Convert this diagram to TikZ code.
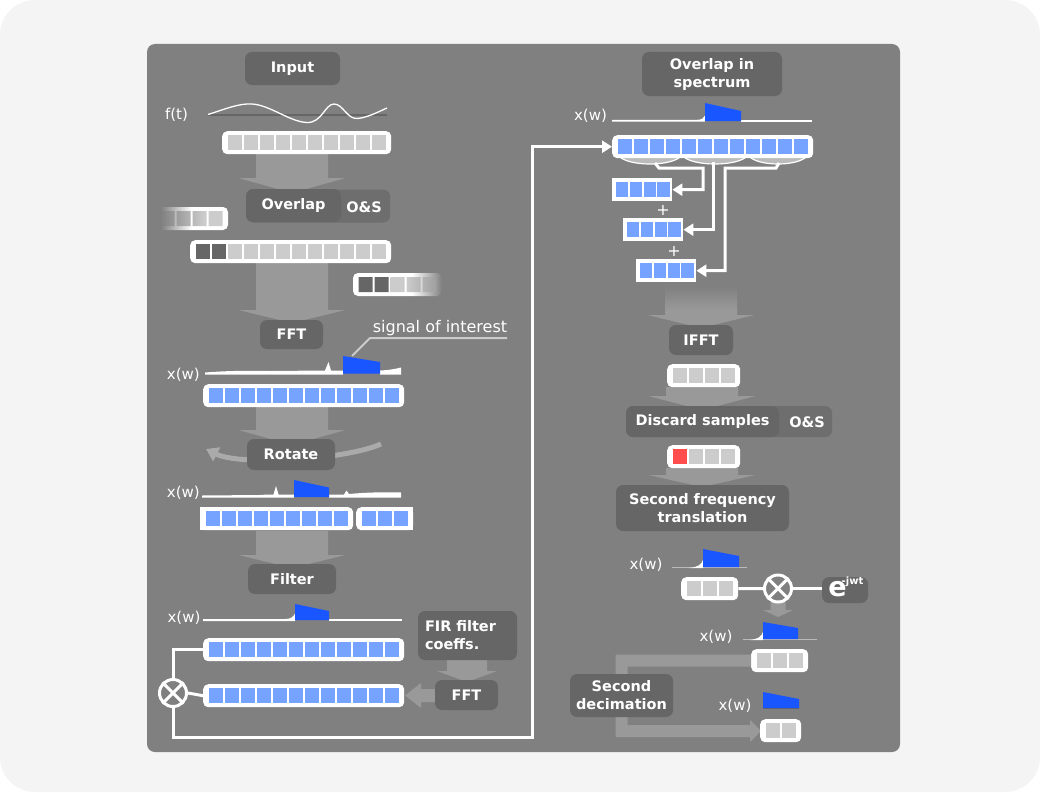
\documentclass[tikz,border=0pt]{standalone}
\usepackage{fontspec}
\setmainfont{DejaVu Sans}
\usetikzlibrary{arrows.meta}
\definecolor{outerbg}{HTML}{F4F4F4}
\definecolor{panel}{HTML}{808080}
\definecolor{boxc}{HTML}{666666}
\definecolor{osc}{HTML}{6E6E6E}
\definecolor{arrowc}{HTML}{999999}
\definecolor{cellg}{HTML}{CCCCCC}
\definecolor{celld}{HTML}{666666}
\definecolor{cellb}{HTML}{75A3FF}
\definecolor{specb}{HTML}{1A56FF}
\definecolor{cellr}{HTML}{FF4D4D}
\definecolor{rotc}{HTML}{AAAAAA}
\definecolor{bracec}{HTML}{BBBBBB}
\definecolor{sigc}{HTML}{CCCCCC}
\pgfdeclarehorizontalshading{fadeframeL}{100bp}{color(0bp)=(panel); color(29bp)=(panel); color(50bp)=(white); color(100bp)=(white)}
\pgfdeclarehorizontalshading{fadecellL}{100bp}{color(0bp)=(panel); color(25bp)=(panel); color(60bp)=(cellg); color(100bp)=(cellg)}
\pgfdeclarehorizontalshading{fadeframeR}{100bp}{color(0bp)=(white); color(58bp)=(white); color(75bp)=(panel); color(100bp)=(panel)}
\pgfdeclarehorizontalshading{fadecellR}{100bp}{color(0bp)=(cellg); color(42bp)=(cellg); color(75bp)=(panel!60!cellg); color(100bp)=(panel)}
% name, x, y, n, main colour, first k, first colour
\newcommand\cellrow[7]{%
  \pgfmathsetmacro\cw{16*#4+9}%
  \node[fill=white, rounded corners=5pt, inner sep=0pt, minimum width=\cw pt, minimum height=23pt, anchor=north west] (#1) at (#2,#3) {};
  \foreach \i in {1,...,#4}{%
    \ifnum\i>#6\relax\def\cc{#5}\else\def\cc{#7}\fi
    \fill[\cc] ({#2+5.5+16*(\i-1)},{#3+4}) rectangle ++(14,15);
  }%
}
% square 4-cell row: name, x, y
\newcommand\sqrow[3]{%
  \node[fill=white, inner sep=0pt, minimum width=60pt, minimum height=23pt, anchor=north west] (#1) at (#2,#3) {};
  \foreach \i in {1,...,4}{%
    \fill[cellb] ({#2+4+13.8*(\i-1)},{#3+4}) rectangle ++(12.3,15);
  }%
}
% cx, ytop, yhead, ytip
\newcommand\bigarrow[4]{%
  \fill[arrowc] (#1-36,#2) -- (#1+36,#2) -- (#1+36,#3) -- (#1+53.5,#3) -- (#1,#4) -- (#1-53.5,#3) -- (#1-36,#3) -- cycle;
}
\begin{document}
\begin{tikzpicture}[x=1pt,y=-1pt,
  lbl/.style={fill=boxc, rounded corners=7pt, text=white, font=\bfseries\fontsize{14.5}{18}\selectfont, inner sep=0pt, align=center},
  txt/.style={text=white, font=\fontsize{15}{18}\selectfont, inner sep=0pt},
  wline/.style={draw=white, line width=3pt},
  tipw/.style={-{Triangle[length=10pt,width=12pt]}},
  mult/.style={circle, draw=white, line width=3pt, minimum size=27pt, inner sep=0pt}
]
\useasboundingbox (0,0) rectangle (1040,792);
\fill[white] (0,0) rectangle (1040,792);
\fill[outerbg, rounded corners=35pt] (0,0) rectangle (1040,792);
\fill[panel, rounded corners=8pt] (147,44) rectangle (900,752);

% ---------- big grey arrows ----------
\bigarrow{292}{153}{178}{193}
\bigarrow{292}{263}{310}{323}
\bigarrow{292}{406}{430}{445}
\bigarrow{292}{531}{555}{568}
\shade[top color=panel, bottom color=arrowc] (665,286) rectangle (737,310);
\bigarrow{701}{309.5}{315}{328}
\bigarrow{702}{387}{396}{410}
\bigarrow{702}{468}{475}{487}
% small arrows
\fill[arrowc] (447,659) -- (487,659) -- (487,671) -- (497,671) -- (467,682) -- (437,671) -- (447,671) -- cycle;
\fill[arrowc] (770.5,602) -- (785.5,602) -- (785.5,610) -- (793,610) -- (778,617) -- (763,610) -- (770.5,610) -- cycle;
\fill[arrowc] (437,689) -- (421,689) -- (421,683) -- (405,695.5) -- (421,708) -- (421,702) -- (437,702) -- cycle;

% rotate arc
\draw[rotc, line width=5pt, -{Triangle[length=12pt,width=15pt]}] (381,444) .. controls (345,460) and (240,466) .. (206,449);

% ---------- input ----------
\node[lbl, minimum width=95pt, minimum height=33pt] (input) at (292.5,68.5) {Input};
\node[txt] (ft) at (176.5,115) {f(t)};
\draw[celld, line width=2pt] (208,115) -- (387,115);
\draw[white, line width=1.3pt] (208,114.5) .. controls (225,109) and (240,103) .. (252,104) .. controls (270,105) and (290,122) .. (307,122.5) .. controls (322,123) and (325,104) .. (334,104) .. controls (343,104) and (347,119) .. (357,118.5) .. controls (367,118) and (380,111) .. (387,108);
\cellrow{inbar}{222}{131}{10}{cellg}{0}{cellg}

% ---------- overlap ----------
\node[lbl, fill=osc, minimum width=144pt, minimum height=33pt, anchor=west] (os1) at (246,206) {};
\node[text=white, font=\bfseries\fontsize{14.5}{18}\selectfont, inner sep=0pt] (os1t) at (364,207) {O\&S};
\node[lbl, minimum width=95pt, minimum height=33pt] (overlap) at (293.5,205.5) {Overlap};
% faded left bar
\shade[shading=fadeframeL, rounded corners=5pt] (155,207) rectangle (228,230);
\shade[shading=fadecellL] (160.5,211) rectangle ++(14,15) (176.5,211) rectangle ++(14,15) (192.5,211) rectangle ++(14,15) (208.5,211) rectangle ++(14,15);
\cellrow{ovbar}{190}{240}{12}{cellg}{2}{celld}
% faded right bar
\shade[shading=fadeframeR, rounded corners=5pt] (353,273) rectangle (442,296);
\fill[celld] (358.5,277) rectangle ++(14,15) (374.5,277) rectangle ++(14,15);
\shade[shading=fadecellR] (390.5,277) rectangle ++(14,15) (406.5,277) rectangle ++(14,15) (422.5,277) rectangle ++(14,15);

% ---------- FFT ----------
\node[lbl, minimum width=63pt, minimum height=29pt] (fft1) at (291.5,334.5) {FFT};
\node[text=white, font=\fontsize{16}{18}\selectfont, inner sep=0pt] (soi) at (440,328) {signal of interest};
\coordinate (soiA) at (507,338);
\coordinate (soiB) at (370,338);
\coordinate (soiC) at (352,356);
\draw[sigc, line width=2pt] (soiA) -- (soiB) -- (soiC);
\node[txt] (xw1) at (183.3,375) {x(w)};
\fill[white] (205,374.5) -- (205,372.5) .. controls (225,371) and (240,370.5) .. (270,371) -- (325,370.5) -- (328.5,362) -- (331,370.5) -- (343,370.5) -- (343,374.5) -- cycle;
\fill[white] (380,374.5) -- (380,370.5) .. controls (390,370) and (395,369) .. (401,367.5) -- (401,374.5) -- cycle;
\fill[specb] (343,373.5) -- (343,356) -- (380,362) -- (380,373.5) -- cycle;
\cellrow{fftbar}{203}{384}{12}{cellb}{0}{cellb}

% ---------- rotate ----------
\node[lbl, minimum width=88pt, minimum height=31pt] (rotate) at (291,454.5) {Rotate};
\node[txt] (xw2) at (183.3,493) {x(w)};
\fill[white] (202,497.5) -- (202,495.5) -- (260,495) .. controls (268,494.5) .. (273.5,494.5) -- (276,486) -- (278.5,494.5) -- (294,494.5) -- (294,497.5) -- cycle;
\fill[white] (329,497.5) -- (329,494.5) -- (344,494.5) -- (346.5,490.5) -- (349,494) .. controls (365,492.5) and (380,492) .. (401,492.5) -- (401,497.5) -- cycle;
\fill[specb] (294,497) -- (294,480) -- (329,487.5) -- (329,497) -- cycle;
\cellrow{rotbarL}{200}{507}{9}{cellb}{0}{cellb}
\fill[white] (200,507) rectangle (205,530);
\cellrow{rotbarR}{356}{507}{3}{cellb}{0}{cellb}
\fill[white] (408,507) rectangle (413,530);

% ---------- filter ----------
\node[lbl, minimum width=88pt, minimum height=30pt] (filter) at (292,579) {Filter};
\node[txt] (xw3) at (184,617.5) {x(w)};
\fill[white] (203,621) -- (203,619) -- (285,619) .. controls (291,619) and (293,617) .. (295,613.5) -- (295,621) -- cycle;
\fill[white] (329,621) -- (329,619) -- (402,619) -- (402,621) -- cycle;
\fill[specb] (295,620) -- (295,604) -- (329,611) -- (329,620) -- cycle;
\cellrow{fbar1}{203}{638}{12}{cellb}{0}{cellb}
\cellrow{fbar2}{203}{684}{12}{cellb}{0}{cellb}
\node[lbl, align=left, text width=85pt, inner xsep=7pt, minimum height=49pt] (fir) at (467.5,635.5) {FIR filter\\coeffs.};
\node[lbl, minimum width=63pt, minimum height=30pt] (fft2) at (466.5,695) {FFT};
\node[mult] (mult1) at (173,693) {};
\draw[white, line width=3pt] (mult1.north east) -- (mult1.south west) (mult1.north west) -- (mult1.south east);
\draw[wline] (fbar1.west) -| (mult1.north);
\draw[wline] (mult1.east) -- (fbar2.west);

% ---------- overlap in spectrum ----------
\node[lbl, minimum width=140pt, minimum height=44pt] (ois) at (712,74) {Overlap in\\spectrum};
\node[txt] (xw4) at (590.5,116) {x(w)};
\fill[white] (612,121.5) -- (612,119.8) -- (697,119.8) .. controls (702,119.8) and (704,118) .. (705,115.5) -- (705,121.5) -- cycle;
\fill[white] (741,121.5) -- (741,119.8) -- (812,119.8) -- (812,121.5) -- cycle;
\fill[specb] (705,121) -- (705,103) -- (741,111) -- (741,121) -- cycle;
\filldraw[fill=bracec, draw=white, line width=1.2pt] (618,155) .. controls (626,167) and (674,167) .. (682,155) -- cycle;
\filldraw[fill=bracec, draw=white, line width=1.2pt] (682,155) .. controls (690,167) and (740,167) .. (748,155) -- cycle;
\filldraw[fill=bracec, draw=white, line width=1.2pt] (748,155) .. controls (756,167) and (800,167) .. (808,155) -- cycle;
\cellrow{sbar}{612}{135}{12}{cellb}{0}{cellb}
\coordinate (cL) at (532,737);
\draw[wline, tipw] (mult1.south) |- (cL) |- (sbar.west);
\sqrow{barA}{612}{178}
\sqrow{barB}{623}{218}
\sqrow{barC}{636}{259}
\node[text=white, font=\fontsize{16}{18}\selectfont, inner sep=0pt] (plus1) at (663,210) {+};
\node[text=white, font=\fontsize{16}{18}\selectfont, inner sep=0pt] (plus2) at (674,251) {+};
\coordinate (b1a) at (655,163);
\coordinate (b1b) at (659,168);
\coordinate (b1c) at (703,168);
\coordinate (b2a) at (713,162);
\coordinate (b3a) at (779,163);
\coordinate (b3b) at (776,168);
\coordinate (b3c) at (725,168);
\draw[wline, tipw] (b1a) -- (b1b) -- (b1c) |- (barA.east);
\draw[wline, tipw] (b2a) |- (barB.east);
\draw[wline, tipw] (b3a) -- (b3b) -- (b3c) |- (barC.east);

% ---------- IFFT / discard ----------
\node[lbl, minimum width=64pt, minimum height=30pt] (ifft) at (701,340) {IFFT};
\cellrow{ibar}{667}{364}{4}{cellg}{0}{cellg}
\node[lbl, fill=osc, minimum width=206pt, minimum height=31pt, anchor=west] (os2) at (626,421.5) {};
\node[text=white, font=\bfseries\fontsize{14.5}{18}\selectfont, inner sep=0pt] (os2t) at (807,422.5) {O\&S};
\node[lbl, minimum width=153pt, minimum height=31pt] (discard) at (702.5,421.5) {Discard samples};
\cellrow{rbar}{667}{445}{4}{cellg}{1}{cellr}
\node[lbl, minimum width=173pt, minimum height=46pt] (sft) at (702.5,508) {Second frequency\\translation};

% ---------- second translation ----------
\node[txt] (xw5) at (646,565) {x(w)};
\draw[bracec, line width=1pt] (672,567.5) -- (747,567.5);
\fill[white] (689,568) .. controls (698,567) and (701,565) .. (703,560) -- (703,568) -- cycle;
\fill[specb] (703,567) -- (703,549) -- (739,556) -- (739,567) -- cycle;
\cellrow{tbar}{681}{577}{3}{cellg}{0}{cellg}
\node[mult] (mult2) at (778,588.5) {};
\draw[white, line width=3pt] (mult2.north east) -- (mult2.south west) (mult2.north west) -- (mult2.south east);
\node[lbl, minimum width=46pt, minimum height=26pt] (expo) at (845,590) {};
\node[text=white, font=\bfseries\fontsize{27}{27}\selectfont, inner sep=0pt] (etext) at (837.5,589) {e};
\node[text=white, font=\bfseries\fontsize{10}{10}\selectfont, inner sep=0pt] (jwt) at (852.5,581.5) {-jwt};
\draw[wline] (tbar.east) -- (mult2.west);
\draw[wline] (mult2.east) -- (mult2.east -| expo.west);

\node[txt] (xw6) at (716,636.5) {x(w)};
\draw[bracec, line width=1pt] (743,639.5) -- (817,639.5);
\fill[white] (750,640) .. controls (758,639) and (761,637) .. (763,632) -- (763,640) -- cycle;
\fill[specb] (763,639) -- (763,622) -- (798,628) -- (798,639) -- cycle;
\cellrow{dbar}{751}{649}{3}{cellg}{0}{cellg}

% ---------- second decimation ----------
\coordinate (dA) at (621.5,660.5);
\coordinate (dB) at (621.5,731);
\coordinate (dC) at (751,731);
\draw[arrowc, line width=12pt, line join=miter] (dbar.west) -- (dA) -- (dB) -- (dC);
\fill[arrowc] (750,720) -- (761,731) -- (750,742) -- cycle;
\node[lbl, minimum width=103pt, minimum height=43pt] (sdec) at (621.5,695.5) {Second\\decimation};
\node[txt] (xw7) at (735,705.5) {x(w)};
\draw[celld, line width=1pt] (763,708.5) -- (799,708.5);
\fill[specb] (763,708) -- (763,692) -- (799,699) -- (799,708) -- cycle;
\cellrow{ebar}{760}{719}{2}{cellg}{0}{cellg}
\end{tikzpicture}
\end{document}
